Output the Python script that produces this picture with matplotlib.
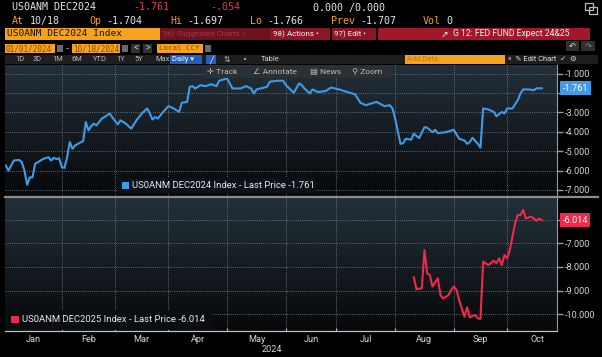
import numpy as np
import matplotlib
matplotlib.use("Agg")
import matplotlib.pyplot as plt
from matplotlib.patches import Rectangle
from matplotlib.colors import LinearSegmentedColormap
from matplotlib.transforms import blended_transform_factory
from matplotlib.ticker import FixedLocator, FuncFormatter, NullFormatter

W, H = 602, 357

# trading-day index (0 = 2 Jan 2024) and values
day24 = [0, 1, 3, 5, 6, 7, 8, 9, 10, 11,
         12, 14, 16, 17, 18, 19, 20, 21, 22, 23,
         24, 25, 26, 29, 30, 31, 32, 33, 34, 36,
         37, 39, 40, 42, 43, 45, 47, 49, 51, 53,
         54, 55, 56, 57, 59, 61, 63, 65, 66, 68,
         69, 70, 71, 73, 75, 77, 79, 80, 83, 84,
         85, 88, 90, 92, 93, 94, 97, 98, 99, 102,
         104, 105, 108, 110, 111, 112, 114, 115, 117, 120,
         122, 125, 128, 131, 133, 135, 139, 142, 144, 145,
         146, 148, 149, 150, 152, 153, 155, 157, 158, 160,
         161, 162, 165, 168, 170, 172, 173, 174, 175, 177,
         178, 179, 181, 183, 184, 186, 187, 188, 190, 192,
         193, 194, 196, 198, 199, 201]
val24 = [-5.74, -6.00, -5.48, -5.45, -5.57, -6.00, -6.73, -6.35, -6.35, -5.65,
         -5.57, -5.40, -5.31, -5.48, -5.34, -5.41, -5.36, -5.83, -5.86, -5.31,
         -4.53, -4.88, -4.70, -4.48, -3.50, -3.93, -3.72, -3.58, -3.67, -3.32,
         -3.24, -3.06, -3.27, -3.62, -3.41, -3.58, -3.84, -3.41, -3.06, -2.80,
         -3.06, -3.37, -3.24, -3.32, -2.98, -2.68, -2.80, -2.98, -2.51, -2.46,
         -1.68, -1.65, -1.77, -1.60, -1.65, -1.55, -1.65, -1.37, -1.25, -1.51,
         -1.77, -1.77, -1.65, -1.77, -2.03, -1.82, -1.72, -1.68, -1.42, -1.37,
         -1.37, -1.59, -1.99, -1.51, -1.60, -1.77, -2.03, -1.82, -1.95, -1.90,
         -1.72, -1.82, -1.95, -2.07, -2.51, -2.63, -2.46, -2.68, -2.63, -2.80,
         -3.32, -4.62, -4.59, -4.36, -4.41, -4.10, -4.33, -3.76, -3.79, -4.02,
         -3.90, -4.07, -4.02, -3.90, -4.36, -4.45, -4.62, -4.53, -4.31, -4.62,
         -4.82, -2.80, -2.85, -2.98, -3.20, -2.98, -3.06, -2.80, -2.80, -2.37,
         -2.03, -1.82, -1.82, -1.86, -1.76, -1.761]

day25 = [153, 154, 156, 157, 158, 159, 160, 162, 163, 164,
         166, 167, 168, 169, 170, 172, 173, 174, 176, 177,
         178, 179, 181, 183, 184, 185, 186, 187, 188, 189,
         191, 192, 193, 194, 195, 197, 199, 200, 201]
val25 = [-8.44, -8.94, -8.90, -7.28, -8.27, -8.34, -8.83, -8.48, -9.19, -9.33,
         -9.19, -8.97, -8.83, -8.97, -9.40, -10.11, -9.71, -10.13, -10.03, -10.17,
         -10.20, -7.77, -7.92, -7.73, -7.84, -7.63, -7.92, -7.49, -7.63, -7.28,
         -6.15, -5.80, -5.80, -5.58, -5.94, -5.87, -6.04, -5.95, -6.014]

months = ["Jan", "Feb", "Mar", "Apr", "May", "Jun", "Jul", "Aug", "Sep", "Oct"]
month_start = [0, 21, 41, 61, 83, 105, 124, 146, 168, 188, 211]

yt24 = [-1, -2, -3, -4, -5, -6, -7]
yt25 = [-6, -7, -8, -9, -10]

BLUE = "#3f9be6"
RED = "#f0284a"
ORANGE = "#f5a21f"
GRID = "#7b858e"
TXT = "#d6d6d6"
SANS = ["Roboto", "DejaVu Sans"]
MONO = "DejaVu Sans Mono"

assert len(day24) == len(val24) and len(day25) == len(val25)


def fx(x):
    return x / W


def fy(y):
    return 1 - y / H


fig = plt.figure(figsize=(W / 100, H / 100), dpi=100, facecolor="black")


def box(x0, y0, x1, y1, color, z=1, fill=True):
    fig.patches.append(Rectangle((fx(x0), fy(y1)), fx(x1 - x0), (y1 - y0) / H,
                                 transform=fig.transFigure, fill=fill,
                                 fc=color if fill else "none", ec="none" if fill else color,
                                 lw=0.9, zorder=z))


def txt(x, y, s, color=TXT, size=7.2, family=MONO, **kw):
    fig.text(fx(x), fy(y), s, color=color, fontsize=size, family=family,
             ha=kw.pop("ha", "left"), va=kw.pop("va", "center"), **kw)


# ---- header rows
txt(12, 7.5, "US0ANM DEC2024", color="#e6e6e6")
txt(133, 7.5, "-1.761", color="#e8384c")
txt(210, 7.5, "-.054", color="#e8384c")
txt(313, 7.5, "0.000 /0.000", color="#e6e6e6")
for x, lab, val in [(12, "At", "10/18"), (89, "Op", "-1.704"), (170, "Hi", "-1.697"),
                    (250, "Lo", "-1.766"), (331, "Prev", "-1.707"), (423, "Vol", "0")]:
    txt(x, 21, lab, color=ORANGE)
    txt(x + 6.1 * (len(lab) + 1) - 1, 21, val, color="#e6e6e6")
# pop-out icon, top right
box(585, 3, 593, 10, "#bbbbbb", z=2, fill=False)
box(589, 7, 597, 14, "#bbbbbb", z=2, fill=False)

box(5, 28, 160, 39.5, ORANGE)
txt(7, 34, "US0ANM DEC2024 Index", color="#1a1206", size=6.8)
box(160, 28, 270, 39.5, "#6c1220")
txt(163, 34, "96) Suggested Charts \u00bb", color="#a33445", size=5.8, family=SANS)
box(270, 28, 330, 39.5, "#8c1628")
txt(273, 34, "98) Actions \u2022", color="#f2f2f2", size=5.8, family=SANS)
box(332, 28, 376, 39.5, "#8c1628")
txt(334, 34, "97) Edit \u2022", color="#f2f2f2", size=5.8, family=SANS)
box(378, 28, 590, 39.5, "#a3172d")
txt(441, 34, "\u2197", color="#f2f2f2", size=6.5, family="DejaVu Sans")
txt(453, 34, "G 12: FED FUND Expect 24&25", color="#f2f2f2", size=6.2, family=SANS)

box(5, 44, 55, 53, ORANGE)
txt(6, 48.5, "01/01/2024", color="#8a4e00", size=5.5)
box(57, 45.5, 63, 51.5, "#6a6a6a")
txt(65, 48.5, "-", color=TXT, size=6)
box(72, 44, 120, 53, ORANGE)
txt(73, 48.5, "10/18/2024", color="#8a4e00", size=5.5)
box(122, 45.5, 128, 51.5, "#6a6a6a")
box(131, 44, 140, 53, "#333333")
txt(135.5, 48.5, "<", color=TXT, size=5.5, ha="center")
box(143, 44, 152, 53, "#333333")
txt(147.5, 48.5, ">", color=TXT, size=5.5, ha="center")
box(157, 44, 203, 53, ORANGE)
txt(159, 48.5, "Local CCY", color="#8a4e00", size=5.3)
box(205, 45.5, 211, 51.5, "#6a6a6a")
box(566, 41, 579, 51, "#303030")
box(581, 41, 595, 51, "#303030")
txt(572.5, 46, "\u21b6", color="#dddddd", size=6, family="DejaVu Sans", ha="center")
txt(588, 46, "\u21b7", color="#888888", size=6, family="DejaVu Sans", ha="center")

box(5, 55, 405, 64, "#1e1e1e")
for x, s in [(15, "1D"), (33, "3D"), (52, "1M"), (72, "6M"), (93, "YTD"),
             (116, "1Y"), (134, "5Y"), (155, "Max")]:
    txt(x, 59.5, s, color="#bdbdbd", size=5.4, family=SANS)
box(170, 55, 202, 64, "#1f5fbf")
txt(172, 59.5, "Daily \u25be", color="white", size=5.4, family=SANS)
box(206, 55.5, 216, 63.5, "#1f5fbf")
txt(211, 59.5, "\u2571", color="white", size=5, family="DejaVu Sans", ha="center")
txt(224, 59.5, "\u21c5", color="#bdbdbd", size=5.5, family="DejaVu Sans")
txt(243, 59.5, "\u2022", color="#bdbdbd", size=5, family="DejaVu Sans")
txt(261, 59.5, "Table", color="#d0d0d0", size=5.4, family=SANS)
box(405, 55, 505, 64, ORANGE)
txt(407, 59.5, "Add Data", color="#c77610", size=5.4, family=SANS)
box(505, 55, 598, 64, "#1e1e1e")
txt(508, 59.5, "\u00ab  \u270e Edit Chart  \u2713  \u2699", color="#e0e0e0", size=5.4,
    family=SANS)

# ---- panels
cm = LinearSegmentedColormap.from_list("bg", ["#07090b", "#233039"])
grad = np.linspace(0, 1, 256).reshape(-1, 1)

ax1 = fig.add_axes([fx(5), fy(196), fx(557 - 5), (196 - 65) / H])
ax2 = fig.add_axes([fx(5), fy(331), fx(557 - 5), (331 - 198) / H])

for ax, days, vals, col, yt, lim in [(ax1, day24, val24, BLUE, yt24, (-7.31, -0.56)),
                                     (ax2, day25, val25, RED, yt25, (-10.71, -5.08))]:
    ax.set_facecolor("#0d1115")
    ax.imshow(grad, cmap=cm, origin="lower", extent=[0, 1, 0, 1],
              transform=ax.transAxes, aspect="auto", zorder=0)
    ax.plot(days, vals, color=col, lw=1.5, zorder=3, solid_joinstyle="round")
    ax.set_xlim(-0.3, 206.7)
    ax.set_ylim(*lim)
    ax.yaxis.tick_right()
    ax.yaxis.set_major_locator(FixedLocator(yt))
    # the level hidden under the last-value tag gets no label
    hidden = round(vals[-1])
    ax.yaxis.set_major_formatter(FuncFormatter(
        lambda v, p, h=hidden: "" if round(v) == h else f"{v:.3f}"))
    ax.xaxis.set_major_locator(FixedLocator(month_start[1:-1]))
    ax.xaxis.set_major_formatter(NullFormatter())
    ax.grid(True, color=GRID, linestyle=(0, (1, 1.6)), lw=0.6, zorder=1)
    for s in ["top", "left", "bottom"]:
        ax.spines[s].set_visible(False)
    ax.spines["right"].set_color("#9a9a9a")
    ax.spines["right"].set_linewidth(0.8)
    ax.tick_params(axis="y", colors="#9a9a9a", labelcolor=TXT, labelsize=6.6,
                   length=4, width=1, pad=1.5)
    ax.tick_params(axis="x", length=0)
    for t in ax.get_yticklabels():
        t.set_family(SANS)

# x axis labels on the lower panel
ax2.spines["bottom"].set_visible(True)
ax2.spines["bottom"].set_color("#bfbfbf")
ax2.spines["bottom"].set_linewidth(0.9)
mid = [(month_start[i] + month_start[i + 1]) / 2 for i in range(len(months))]
ax2.xaxis.set_minor_locator(FixedLocator(mid))
ax2.xaxis.set_minor_formatter(FuncFormatter(lambda v, p: months[mid.index(v)] if v in mid else ""))
ax2.tick_params(axis="x", which="major", direction="in", length=2.5, color="#bfbfbf", width=0.8)
ax2.tick_params(axis="x", which="minor", length=0, labelsize=6.6, labelcolor=TXT, pad=3)
for t in ax2.get_xticklabels(minor=True):
    t.set_family(SANS)
fig.text(fx(272), fy(349.5), "2024", color=TXT, fontsize=6.6, family=SANS, ha="center", va="center")

# panel separator
fig.lines.append(plt.Line2D([fx(5), fx(598)], [fy(196.8), fy(196.8)], transform=fig.transFigure,
                            color="#8c8c8c", lw=1.6))

# last value tags
for ax, vals, col in [(ax1, val24, BLUE), (ax2, val25, RED)]:
    tr = blended_transform_factory(ax.transAxes, ax.transData)
    ax.text(1.01, vals[-1], f"{vals[-1]:.3f}", transform=tr, color="white", fontsize=6.6,
            family=SANS, va="center", ha="left", zorder=6, clip_on=False,
            bbox=dict(boxstyle="square,pad=0.28", fc=col, ec="none"))

# legends
box(118, 178, 316, 193, "#0c1218", z=5)
box(122, 182, 129, 189, BLUE, z=6)
txt(132, 185.5, "US0ANM DEC2024 Index - Last Price -1.761", color="#e8e8e8", size=6.8,
    family=SANS, zorder=6)
box(5, 310, 212, 330, "#0a0e12", z=5)
box(11, 316, 19, 323, RED, z=6)
txt(22, 319.5, "US0ANM DEC2025 Index - Last Price -6.014", color="#e8e8e8", size=6.8,
    family=SANS, zorder=6)

# chart toolbar overlay
box(203, 65, 392, 77.5, "#2b3034", z=5)
for x, s in [(207, "\u271b Track"), (253, "\u2220 Annotate"), (310, "\u25a4 News"), (352, "\u26b2 Zoom")]:
    txt(x, 71.5, s, color="#bcbcbc", size=6, family=SANS, zorder=6)

fig.savefig("out.png", dpi=100, facecolor="black")
